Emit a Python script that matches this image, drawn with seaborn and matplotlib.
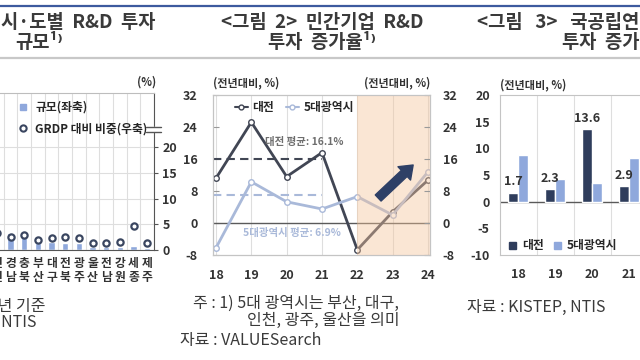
"""
Regional R&D investment charts (three panels, cropped view).
"""

import numpy as np
import pandas as pd
import seaborn as sns
import matplotlib.pyplot as plt
from matplotlib.lines import Line2D
from matplotlib.patches import Patch, Rectangle

sns.set_style("white")
plt.rcParams["font.family"] = ["Noto Sans CJK KR", "DejaVu Sans"]
plt.rcParams["axes.unicode_minus"] = False

W, H = 640, 360

# Panel 1: R&D investment by region
regions = ["인천", "경남", "충북", "부산", "대구", "전북", "광주", "울산", "전남", "강원", "세종", "제주"]
rd_scale = [8.8, 6.5, 6.5, 2.7, 3.0, 2.7, 2.7, 1.2, 1.2, 1.2, 1.4, 0.7]
grdp_share = [3.3, 2.5, 2.9, 2.0, 2.3, 2.5, 2.3, 1.4, 1.4, 1.6, 4.7, 1.4]

# Panel 2: private company R&D growth
years2 = [18, 19, 20, 21, 22, 23, 24]
daejeon_private = [11.2, 25.2, 11.6, 17.6, -6.7, 2.8, 10.7]
metro5_private = [-6.2, 10.3, 5.3, 3.5, 6.6, 2.0, 12.8]
daejeon_avg = 16.1
metro5_avg = 6.9

# Panel 3: public research institute R&D growth
years3 = ["18", "19", "20", "21"]
daejeon_public = [1.7, 2.3, 13.6, 2.9]
metro5_public = [8.8, 4.3, 3.5, 8.1]

TXT = "#333333"
LIGHT = "#8fa8dc"
NAVY = "#2f3d5c"
DARK_LINE = "#414654"
LIGHT_LINE = "#a9b9d9"
GRID = "#dedede"


def box(x0, y0, x1, y1):
    return [x0 / W, 1 - y1 / H, (x1 - x0) / W, (y1 - y0) / H]


def ftext(x, y, s, **kw):
    kw.setdefault("color", TXT)
    kw.setdefault("va", "center")
    fig.text(x / W, 1 - y / H, s, **kw)


fig = plt.figure(figsize=(6.4, 3.6), dpi=100)

# header rules
fig.add_artist(Line2D([0, 1], [1 - 5.5 / H] * 2, color="#3d5a9e", lw=1.6))
fig.add_artist(Line2D([0, 1], [1 - 58 / H] * 2, color="#c8c8c8", lw=1.6))

# titles
tkw = dict(fontsize=13.5, weight="bold", color="#3a3a3a")
ftext(155, 22, "<그림  1>   시·도별  R&D  투자", ha="right", **tkw)
ftext(15, 43, "규모¹⁾", ha="left", **tkw)
ftext(322, 22, "<그림  2>  민간기업  R&D", ha="center", **tkw)
ftext(322, 43, "투자  증가율¹⁾", ha="center", **tkw)
ftext(477, 22, "<그림   3>   국공립연구기관  R&D", ha="left", **tkw)
ftext(562, 43, "투자  증가율", ha="left", **tkw)

#####################################
# Panel 1
#####################################
ax1 = fig.add_axes(box(-10, 93, 154, 250))
sns.barplot(x=regions, y=rd_scale, color=LIGHT, saturation=1, width=0.45, ax=ax1)
ax1.set_ylim(0, 60)
ax1.set_yticks([])
ax2 = ax1.twinx()
sns.pointplot(x=regions, y=grdp_share, ax=ax2, color="#3a4660", linestyle="none",
              marker="o", markersize=4.5, markerfacecolor="white", markeredgewidth=1.6,
              errorbar=None)
ax1.set_xlim(-0.5, len(regions) - 0.5)
ax2.set_ylim(0, 30.5)
ax2.set_yticks([0, 5, 10, 15, 20])
ax2.yaxis.tick_right()
ax2.tick_params(axis="y", direction="out", length=3, pad=3, labelsize=9, labelcolor=TXT, color="#555")
for lab in ax2.get_yticklabels():
    lab.set_fontweight("bold")
ax2.yaxis.grid(True, color=GRID, lw=0.8)
ax2.set_ylabel("")
ax1.set_xticks(range(len(regions)))
ax1.set_xticklabels(["\n".join(r) for r in regions], fontsize=8.5, weight="bold",
                    color=TXT, linespacing=1.15)
ax1.tick_params(axis="x", length=0, pad=5)
ax1.set_xticks(np.arange(-0.5, len(regions), 1), minor=True)
ax1.tick_params(axis="x", which="minor", length=0)
ax1.grid(which="minor", axis="x", color=GRID, lw=0.8)
ax1.set_xlabel("")
for a in (ax1, ax2):
    for s in a.spines.values():
        s.set_visible(False)
ax2.spines["right"].set_visible(True)
ax2.spines["right"].set_color("#555")
ax2.spines["bottom"].set_visible(True)
ax2.spines["bottom"].set_color("#555")
ax2.spines["top"].set_visible(True)
ax2.spines["top"].set_color("#bdbdbd")
h1 = [Line2D([], [], marker="s", ls="none", color=LIGHT, ms=5),
      Line2D([], [], marker="o", ls="none", mfc="white", mec="#3a4660", mew=1.5, ms=4.5)]
ax2.legend(h1, ["규모(좌축)", "GRDP 대비 비중(우축)"], loc="upper left",
           bbox_to_anchor=(14 / W, 1 - 96 / H), bbox_transform=fig.transFigure,
           frameon=False, prop={"size": 8.5, "weight": "bold"}, handlelength=0.8,
           handletextpad=0.6, labelspacing=0.75, borderaxespad=0)
# axis break mark
fig.add_artist(Rectangle((150 / W, 1 - 131 / H), 12 / W, 4 / H, color="white", zorder=5))
fig.add_artist(Line2D([146 / W, 161 / W], [1 - 126.5 / H] * 2, color="#555", lw=1, zorder=6))
fig.add_artist(Line2D([146 / W, 161 / W], [1 - 131.5 / H] * 2, color="#555", lw=1, zorder=6))
ftext(147, 82, "(%)", ha="center", fontsize=8, weight="bold")

fkw = dict(fontsize=11.5, color="#3a3a3a")
ftext(45, 306, "주 : 1) 2022년 기준", ha="right", **fkw)
ftext(36, 322, "자료 : NTIS", ha="right", **fkw)

#####################################
# Panel 2
#####################################
axb = fig.add_axes(box(213, 95, 430, 255))
df2 = pd.DataFrame({
    "year": years2 * 2,
    "value": daejeon_private + metro5_private,
    "series": ["대전"] * len(years2) + ["5대광역시"] * len(years2),
})
sns.lineplot(data=df2, x="year", y="value", hue="series",
             palette={"대전": DARK_LINE, "5대광역시": LIGHT_LINE},
             marker="o", markersize=4, markerfacecolor="white", markeredgewidth=1,
             linewidth=2, legend=False, ax=axb, zorder=2)
for ln in axb.lines:
    ln.set_markeredgecolor(ln.get_color())
x0, x1 = 17.915, 24.057
axb.set_xlim(x0, x1)
axb.set_ylim(-8, 32)
axb.set_yticks(range(-8, 33, 8))
axb.set_xticks(years2)
axb.set_xlabel("")
axb.set_ylabel("")
axb.grid(axis="x", color=GRID, lw=0.8)
axb.axhline(0, color="#5a5a5a", lw=1, zorder=1.8)
frac = (21 - x0) / (x1 - x0)
axb.axhline(daejeon_avg, xmin=0, xmax=frac, color=DARK_LINE, lw=1.5, ls=(0, (4, 2.5)))
axb.axhline(metro5_avg, xmin=0, xmax=frac, color=LIGHT_LINE, lw=1.5, ls=(0, (4, 2.5)))
axb.text(20.5, 20.2, f"대전 평균: {daejeon_avg}%", ha="center", va="center",
         fontsize=7.5, weight="bold", color="#6e6e6e")
axb.text(20.15, -2.6, f"5대광역시 평균: {metro5_avg}%", ha="center", va="center",
         fontsize=7.5, weight="bold", color=LIGHT_LINE)
axb.axvspan(22, x1, color="#f5c49a", alpha=0.42, lw=0, zorder=3)
axb.annotate("", xy=(23.58, 14.5), xytext=(22.59, 6.25), zorder=5,
             arrowprops=dict(arrowstyle="simple,head_length=0.8,head_width=1.2,tail_width=0.55",
                             color="#2e4066", mutation_scale=11, shrinkA=0, shrinkB=0))
axr = axb.twinx()
axr.set_ylim(-8, 32)
axr.set_yticks(range(-8, 33, 8))
axb.tick_params(axis="y", direction="in", length=4, pad=11, labelsize=9, labelcolor=TXT, color="#999")
axr.tick_params(axis="y", direction="in", length=4, pad=9, labelsize=9, labelcolor=TXT, color="#999")
axb.tick_params(axis="x", length=0, pad=10, labelsize=9, labelcolor=TXT)
for lab in axb.get_yticklabels() + axr.get_yticklabels() + axb.get_xticklabels():
    lab.set_fontweight("bold")
for a in (axb, axr):
    for s in a.spines.values():
        s.set_color("#c4c4c4")
        s.set_linewidth(0.8)
h2 = [Line2D([], [], color=DARK_LINE, lw=1.5, marker="o", mfc="white", mec=DARK_LINE, ms=3.5),
      Line2D([], [], color=LIGHT_LINE, lw=1.5, marker="o", mfc="white", mec=LIGHT_LINE, ms=3.5)]
axr.legend(h2, ["대전", "5대광역시"], ncol=2, loc="upper left",
           bbox_to_anchor=(230 / W, 1 - 96 / H), bbox_transform=fig.transFigure,
           frameon=False, prop={"size": 8.5, "weight": "bold"}, handlelength=1.1,
           handletextpad=0.4, columnspacing=1.0, borderaxespad=0)
ftext(213, 83, "(전년대비, %)", ha="left", fontsize=8, weight="bold")
ftext(430, 83, "(전년대비, %)", ha="right", fontsize=8, weight="bold")

ftext(193, 303, "주 : 1) 5대 광역시는 부산, 대구,", ha="left", **fkw)
ftext(247, 320, "인천, 광주, 울산을 의미", ha="left", **fkw)
ftext(180, 340, "자료 : VALUESearch", ha="left", **fkw)

#####################################
# Panel 3
#####################################
ax3 = fig.add_axes(box(499.5, 95, 647.5, 255))
df3 = pd.DataFrame({
    "year": years3 * 2,
    "value": daejeon_public + metro5_public,
    "series": ["대전"] * len(years3) + ["5대광역시"] * len(years3),
})
sns.barplot(data=df3, x="year", y="value", hue="series", palette=[NAVY, LIGHT],
            saturation=1, width=0.55, legend=False, ax=ax3, zorder=2)
ax3.bar_label(ax3.containers[0], fmt="%.1f", padding=3, fontsize=9, weight="bold", color=TXT)
ax3.set_xlim(-0.5, len(years3) - 0.5)
ax3.set_ylim(-10, 20)
ax3.set_yticks(range(-10, 21, 5))
ax3.set_xlabel("")
ax3.set_ylabel("")
ax3.set_xticks(np.arange(0.5, len(years3), 1), minor=True)
ax3.grid(which="minor", axis="x", color=GRID, lw=0.8)
ax3.axhline(0, color="#5a5a5a", lw=1, zorder=1.8)
ax3.tick_params(axis="y", length=0, pad=7, labelsize=9, labelcolor=TXT)
ax3.tick_params(axis="x", which="both", length=0, pad=9, labelsize=9, labelcolor=TXT)
for lab in ax3.get_yticklabels() + ax3.get_xticklabels():
    lab.set_fontweight("bold")
for s in ax3.spines.values():
    s.set_color("#c4c4c4")
    s.set_linewidth(0.8)
h3 = [Patch(color=NAVY), Patch(color=LIGHT)]
ax3.legend(h3, ["대전", "5대광역시"], ncol=2, loc="center left",
           bbox_to_anchor=(504 / W, 1 - 246 / H), bbox_transform=fig.transFigure,
           frameon=False, prop={"size": 8.5, "weight": "bold"}, handlelength=0.6,
           handleheight=0.6, handletextpad=0.5, columnspacing=0.9, borderaxespad=0)
ftext(500, 85, "(전년대비, %)", ha="left", fontsize=8, weight="bold")

ftext(467, 307, "자료 : KISTEP, NTIS", ha="left", **fkw)

fig.savefig("out.png", dpi=100)
